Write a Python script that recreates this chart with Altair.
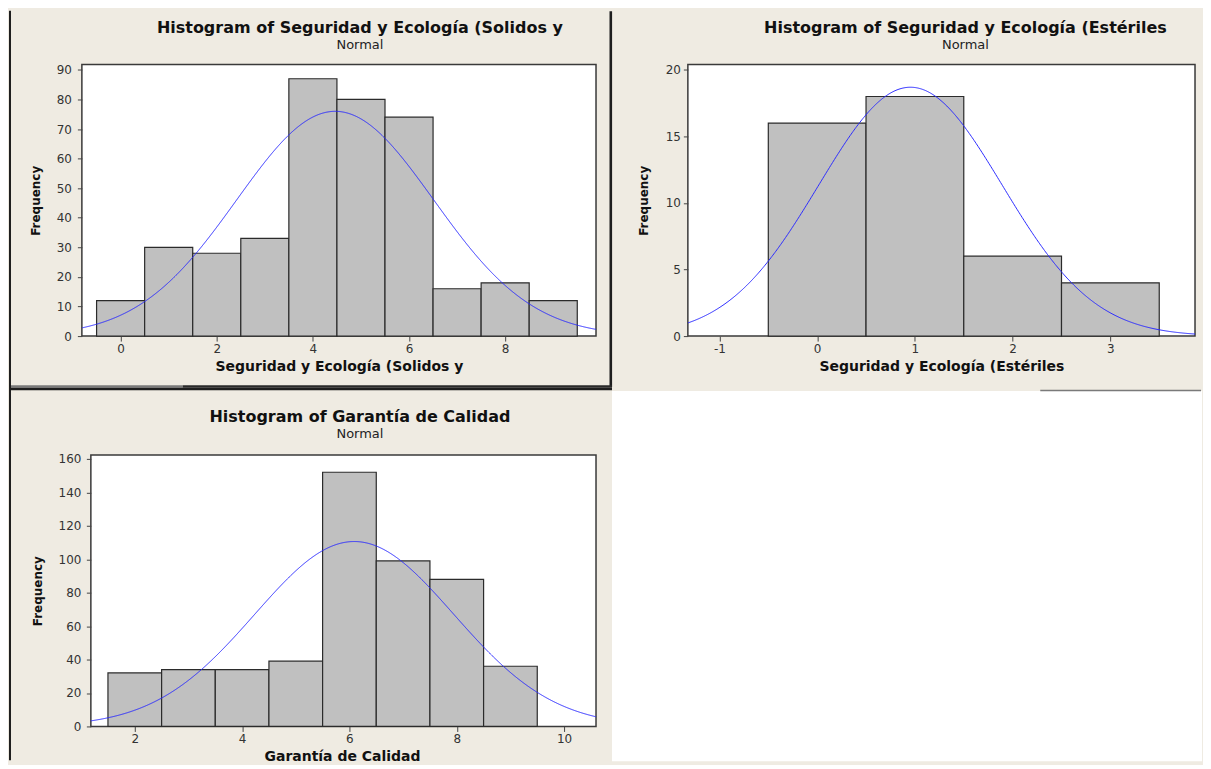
import math
import altair as alt
import pandas as pd

# ---------------- data ----------------
p1_title = "Histogram of Seguridad y Ecología (Solidos y"
p1_xlabel = "Seguridad y Ecología (Solidos y"
p1_centers = [0, 1, 2, 3, 4, 5, 6, 7, 8, 9]
p1_counts = [12, 30, 28, 33, 87, 80, 74, 16, 18, 12]
p1_xticks = [0, 2, 4, 6, 8]
p1_yticks = [0, 10, 20, 30, 40, 50, 60, 70, 80, 90]

p2_title = "Histogram of Seguridad y Ecología (Estériles"
p2_xlabel = "Seguridad y Ecología (Estériles"
p2_centers = [0, 1, 2, 3]
p2_counts = [16, 18, 6, 4]
p2_xticks = [-1, 0, 1, 2, 3]
p2_yticks = [0, 5, 10, 15, 20]

p3_title = "Histogram of Garantía de Calidad"
p3_xlabel = "Garantía de Calidad"
p3_centers = [2, 3, 4, 5, 6, 7, 8, 9]
p3_counts = [32, 34, 34, 39, 152, 99, 88, 36]
p3_xticks = [2, 4, 6, 8, 10]
p3_yticks = [0, 20, 40, 60, 80, 100, 120, 140, 160]

subtitle = "Normal"
ylabel = "Frequency"
bin_width = 1.0

# ---------------- style ----------------
BG = "#EFEBE2"
BAR_FILL = "#C0C0C0"
BAR_STROKE = "#2b2b2b"
FRAME_STROKE = "#3a3a3a"
CURVE = "#2a2aff"
FONT = "DejaVu Sans"

# ---------------- layout (pixels) ----------------
GRID_X, GRID_Y = 81, 63      # page position of the first plot area
W1, W2, W3, H = 515, 508, 515, 272
COL_SP, ROW_SP = 92, 119

one = pd.DataFrame({"k": [0]})


def make_panel(title, xlabel, centers, counts, xticks, yticks, xdom, ydom,
               width, frame_x0, curve_x0, title_dx, ylab_pad, ytit_pad,
               yoffset=0, xtitle_x=None):
    df = pd.DataFrame({
        "lo": [c - bin_width / 2 for c in centers],
        "hi": [c + bin_width / 2 for c in centers],
        "count": counts,
    })
    n = sum(counts)
    mu = sum(c * k for c, k in zip(centers, counts)) / n
    sd = math.sqrt(sum(k * (c - mu) ** 2 for c, k in zip(centers, counts)) / (n - 1))

    xs = alt.Scale(domain=xdom, nice=False, zero=False)
    ys = alt.Scale(domain=ydom, nice=False, zero=False)
    xkw = dict(values=xticks, title=xlabel, domain=False, grid=False,
               tickSize=5, tickColor="#444", tickWidth=1,
               labelFont=FONT, labelFontSize=12, labelColor="#333",
               labelPadding=2, labelFlush=False, labelExpr="'' + datum.value",
               titleFont=FONT, titleFontSize=14, titleFontWeight="bold",
               titleColor="#111", titlePadding=5, zindex=1)
    if xtitle_x is not None:
        xkw["titleX"] = xtitle_x
    xaxis = alt.Axis(**xkw)
    yaxis = alt.Axis(values=yticks, title=ylabel, domain=False, grid=False,
                     tickSize=4.5, tickColor="#444", tickWidth=1,
                     labelFont=FONT, labelFontSize=12, labelColor="#333",
                     labelPadding=ylab_pad, labelFlush=False,
                     labelExpr="'' + datum.value",
                     titleFont=FONT, titleFontSize=12, titleFontWeight="bold",
                     titleColor="#111", titlePadding=ytit_pad,
                     offset=yoffset, zindex=1)

    frame = alt.Chart(one).mark_rect(
        fill="white", stroke=FRAME_STROKE, strokeWidth=1.5
    ).encode(x=alt.value(frame_x0), x2=alt.value(width),
             y=alt.value(0), y2=alt.value(H))

    bars = alt.Chart(df).mark_rect(
        fill=BAR_FILL, stroke=BAR_STROKE, strokeWidth=1.2
    ).encode(
        x=alt.X("lo:Q", scale=xs, axis=xaxis),
        x2="hi:Q",
        y=alt.Y("count:Q", scale=ys, axis=yaxis),
        y2=alt.datum(0),
    )

    curve = alt.Chart(
        alt.sequence(curve_x0, xdom[1] + 0.02, 0.01, as_="x")
    ).transform_calculate(
        y=f"{n} * {bin_width} * exp(-0.5 * pow((datum.x - {mu}) / {sd}, 2)) / ({sd} * sqrt(2 * PI))"
    ).mark_line(color=CURVE, strokeWidth=1, clip=True).encode(
        x=alt.X("x:Q", scale=xs, axis=xaxis),
        y=alt.Y("y:Q", scale=ys, axis=yaxis),
    )

    return alt.layer(frame, bars, curve).properties(
        width=width, height=H,
        title=alt.TitleParams(
            text=title, subtitle=subtitle, anchor="middle", frame="group",
            dx=title_dx, offset=12,
            font=FONT, fontSize=16, fontWeight="bold", color="#111",
            subtitleFont=FONT, subtitleFontSize=13, subtitleColor="#222",
            subtitlePadding=3,
        ),
    )


p1 = make_panel(p1_title, p1_xlabel, p1_centers, p1_counts, p1_xticks, p1_yticks,
                [-0.806, 9.890], [0, 91.8], W1, 0, -0.806, 21, 6, 14)
p2 = make_panel(p2_title, p2_xlabel, p2_centers, p2_counts, p2_xticks, p2_yticks,
                [-1.323, 3.866], [0, 20.4], W2, 0, -1.323, 24, 3, 15)
p3 = make_panel(p3_title, p3_xlabel, p3_centers, p3_counts, p3_xticks, p3_yticks,
                [1.014, 10.595], [0, 162.4], W3, 9, 1.181, 21, 5.5, 14,
                yoffset=-9, xtitle_x=260.5)

# ---------------- window decorations (page coordinates) ----------------
OX = GRID_X + W1 + COL_SP
OY = GRID_Y + H + ROW_SP


def vline(x, y1, y2, color, w):
    return alt.Chart(one).mark_rule(color=color, strokeWidth=w).encode(
        x=alt.value(x - OX), y=alt.value(y1 - OY), y2=alt.value(y2 - OY))


def hline(y, x1, x2, color, w):
    return alt.Chart(one).mark_rule(color=color, strokeWidth=w).encode(
        y=alt.value(y - OY), x=alt.value(x1 - OX), x2=alt.value(x2 - OX))


white = alt.Chart(one).mark_rect(fill="white").encode(
    x=alt.value(612 - OX), x2=alt.value(1203 - OX),
    y=alt.value(390 - OY), y2=alt.value(761 - OY))

deco = alt.layer(
    white,
    vline(9, 9, 760, "#1e1e1e", 2),
    vline(610.8, 9.5, 386, "#1e1e1e", 2.6),
    hline(385.5, 10, 182, "#7a7a7a", 2.4),
    hline(385.5, 182, 612, "#2a2a2a", 2.4),
    hline(388, 10, 612, "#1e1e1e", 2.6),
    hline(389.6, 1041, 1202, "#7a7a7a", 1.5),
).properties(width=1, height=1)

chart = alt.concat(
    p1, p2, p3, deco, columns=2,
    spacing={"row": ROW_SP, "column": COL_SP}, bounds="flush",
).properties(padding=0, background=BG).configure_view(stroke="transparent")

chart.save("out.html", embed_options={"renderer": "svg", "actions": False})
